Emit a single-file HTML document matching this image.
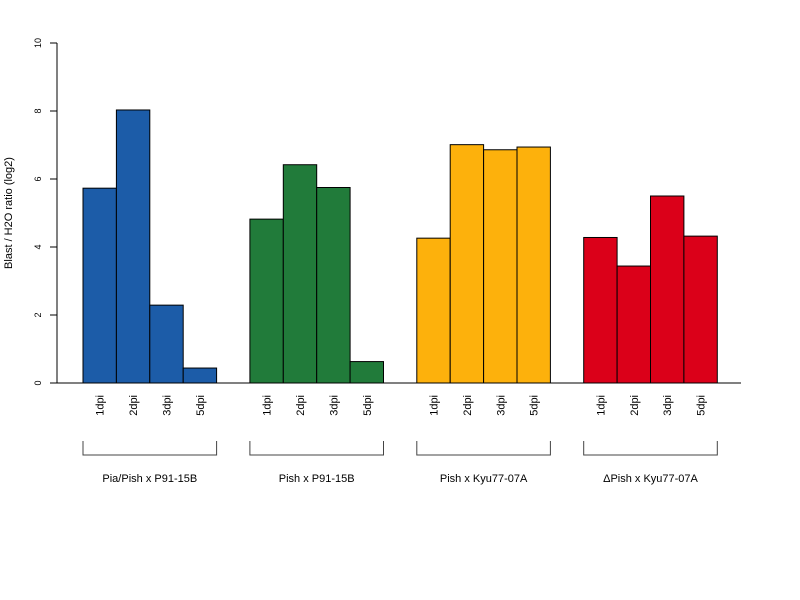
<!DOCTYPE html>
<html><head><meta charset="utf-8"><style>
body{margin:0;background:#fff}
svg{display:block;font-family:"Liberation Sans",sans-serif}
</style></head><body>
<svg id="c" width="800" height="600"></svg>
<script>
const groups=["Pia/Pish x P91-15B","Pish x P91-15B","Pish x Kyu77-07A","\u0394Pish x Kyu77-07A"];
const days=["1dpi","2dpi","3dpi","5dpi"];
const g1=[5.73,8.03,2.29,0.44];
const g2=[4.82,6.42,5.75,0.63];
const g3=[4.26,7.01,6.86,6.94];
const g4=[4.28,3.44,5.50,4.32];
const yTicks=[0,2,4,6,8,10];
const colors=["#1c5ca8","#217b3a","#fdb10c","#db0019"];
const series=[g1,g2,g3,g4];
const NS="http://www.w3.org/2000/svg";
const svg=document.getElementById('c');
function y(v){return 383-v*34;}
function gx(g){return 83+g*166.9;}
const bw=33.4;
function mk(t,a,p){const e=document.createElementNS(NS,t);for(const k in a)e.setAttribute(k,a[k]);(p||svg).appendChild(e);return e;}
// y axis
const ax=mk('line',{x1:57,y1:y(0),x2:57,y2:y(10),stroke:'#000'});


yTicks.forEach(t=>{
  const tk=mk('line',{x1:50,x2:57,y1:y(t),y2:y(t),stroke:'#000'});
  
  
  const tx=mk('text',{x:0,y:0,'font-size':9,'text-anchor':'middle',transform:`translate(41,${y(t)}) rotate(-90)`});
  tx.textContent=t;
  
  
});
const yt=mk('text',{x:0,y:0,'font-size':11,'text-anchor':'middle',transform:`translate(12,213) rotate(-90)`});
yt.textContent="Blast / H2O ratio (log2)";


const base=mk('line',{x1:57,x2:741,y1:y(0),y2:y(0),stroke:'#000'});


series.forEach((s,g)=>{
  s.forEach((v,i)=>{
    const x=gx(g)+i*bw;
    const r=mk('rect',{x:x,y:y(v),width:bw,height:y(0)-y(v),fill:colors[g],stroke:'#000','stroke-width':1});
    
    
    const t=mk('text',{x:0,y:0,'font-size':11,'text-anchor':'end',transform:`translate(${x+bw/2+4},395) rotate(-90)`});
    t.textContent=days[i];
    
    
  });
  const x0=gx(g),x1=gx(g)+4*bw;
  const b=mk('path',{d:`M${x0},441V455H${x1}V441`,fill:'none',stroke:'#444'});
  
  
  const gl=mk('text',{x:(x0+x1)/2,y:482,'font-size':11,'text-anchor':'middle'});
  gl.textContent=groups[g];
  
  
});
</script>
</body></html>
